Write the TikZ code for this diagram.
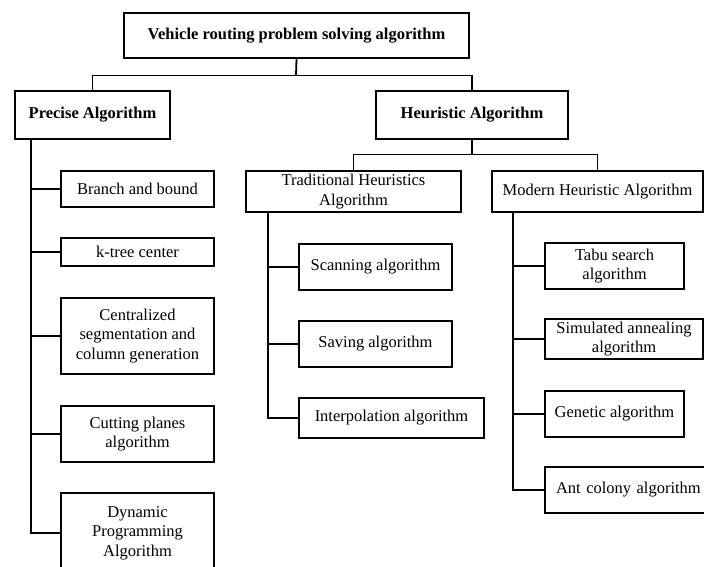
\documentclass[tikz,border=0pt]{standalone}
\usepackage{fontspec}
\setmainfont{Liberation Serif}
\begin{document}
\begin{tikzpicture}[x=1pt,y=-1pt,
  box/.style={draw=black,line width=1.2pt,fill=white,inner sep=0pt,align=center,
    font=\fontsize{16.5}{19.5}\selectfont},
  bbox/.style={box,font=\fontsize{16.5}{19.5}\selectfont\bfseries},
  conn/.style={draw=black,line width=1.8pt}]
\useasboundingbox (0,0) rectangle (704,567);
% level 0/1
\node[bbox,minimum width=345pt,minimum height=45pt] (top) at (296.5,35.5) {Vehicle routing problem solving algorithm};
\node[bbox,minimum width=155pt,minimum height=48pt] (precise) at (92.5,115) {Precise Algorithm};
\node[bbox,minimum width=192pt,minimum height=48pt] (heur) at (472,115) {Heuristic Algorithm};
% precise children
\node[box,minimum width=153pt,minimum height=36pt] (branch) at (137.5,189) {Branch and bound};
\node[box,minimum width=153pt,minimum height=28pt] (ktree) at (137.5,252) {k-tree center};
\node[box,minimum width=153pt,minimum height=76pt] (central) at (137.5,336) {Centralized\\segmentation and\\column generation};
\node[box,minimum width=153pt,minimum height=56pt] (cutting) at (137.5,434) {Cutting planes\\algorithm};
\node[box,minimum width=153pt,minimum height=80pt] (dynamic) at (137.5,533) {Dynamic\\Programming\\Algorithm};
% heuristic children
\node[box,minimum width=215pt,minimum height=41pt] (trad) at (353.5,191.5) {Traditional Heuristics\\Algorithm};
\node[box,minimum width=211pt,minimum height=41pt] (modern) at (597.5,191.5) {Modern Heuristic Algorithm};
\node[box,minimum width=153pt,minimum height=46pt] (scan) at (375.5,267) {Scanning algorithm};
\node[box,minimum width=153pt,minimum height=46pt] (saving) at (375.5,344) {Saving algorithm};
\node[box,minimum width=185pt,minimum height=40pt] (interp) at (391.5,418) {Interpolation algorithm};
\node[box,minimum width=139pt,minimum height=46pt] (tabu) at (614.5,266) {Tabu search\\algorithm};
\node[box,minimum width=158pt,minimum height=40pt] (sim) at (624,339) {Simulated annealing\\algorithm};
\node[box,minimum width=139pt,minimum height=46pt] (gen) at (614.5,414) {Genetic algorithm};
\node[box,minimum width=162pt,minimum height=46pt,text width=162pt,align=left] (ant) at (626,490) {\hspace*{11pt}Ant colony algorithm};
% coordinates
\coordinate (tb) at (296,75.5);
\coordinate (hb) at (472,154.5);
\coordinate (px) at (31,0);
\coordinate (tx) at (268,0);
\coordinate (mx) at (513,0);
% connectors
\draw[conn] (top.south) -- (tb);
\draw[conn] (precise.north) |- (tb) -| (heur.north);
\draw[conn] (heur.south) -- (hb);
\draw[conn] (trad.north) |- (hb) -| (modern.north);
% precise tree
\draw[conn] (precise.south -| px) |- (dynamic.west);
\foreach \n in {branch,ktree,central,cutting}{\draw[conn] (px |- \n.west) -- (\n.west);}
% traditional tree
\draw[conn] (trad.south -| tx) |- (interp.west);
\foreach \n in {scan,saving}{\draw[conn] (tx |- \n.west) -- (\n.west);}
% modern tree
\draw[conn] (modern.south -| mx) |- (ant.west);
\foreach \n in {tabu,sim,gen}{\draw[conn] (mx |- \n.west) -- (\n.west);}
\end{tikzpicture}
\end{document}
